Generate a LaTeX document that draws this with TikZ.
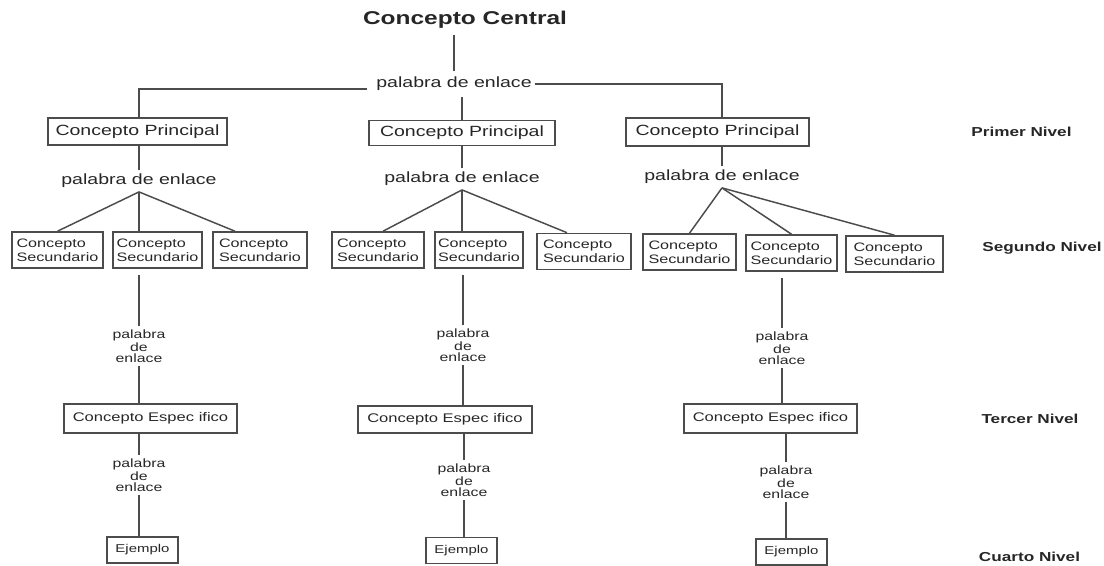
\documentclass[tikz,border=0pt]{standalone}
\usepackage{fontspec}
\setmainfont{Liberation Sans}[FakeStretch=1.32]
\definecolor{txt}{gray}{0.15}
\definecolor{ln}{gray}{0.3}
\begin{document}
\begin{tikzpicture}[x=0.75pt,y=-0.75pt,
  every node/.style={text=txt},
  box/.style={draw=ln, line width=1.2pt, inner sep=0pt},
  conn/.style={draw=ln, line width=1.1pt},
  pebig/.style={inner sep=0pt, outer xsep=0pt, outer ysep=3pt, font=\fontsize{11.1}{12}\selectfont},
  pesmall/.style={inner sep=0pt, outer sep=3pt, align=center, font=\fontsize{9}{8.3}\selectfont},
  princ/.style={box, font=\fontsize{11.1}{12}\selectfont},
  sec/.style={box, align=left, font=\fontsize{9.2}{10.5}\selectfont, minimum height=27pt},
  espec/.style={box, font=\fontsize{9.4}{10}\selectfont, minimum width=130pt},
  ejem/.style={box, font=\fontsize{8.5}{9}\selectfont, minimum width=53.25pt, minimum height=19.5pt},
  nivel/.style={inner sep=0pt, font=\bfseries\fontsize{9.75}{11}\selectfont}
]
\useasboundingbox (0,0) rectangle (1104,565);

% top
\node[inner sep=0pt, outer sep=5pt, font=\bfseries\fontsize{13.9}{15}\selectfont] (central) at (465,20) {Concepto Central};
\node[pebig, outer ysep=4.5pt] (pe0) at (454,84) {palabra de enlace};
\coordinate (hl) at (367,89);
\coordinate (hr) at (535,84);

% level 1
\node[princ, minimum width=134.25pt, minimum height=20.25pt] (p1) at (137.5,131.5) {Concepto Principal};
\node[princ, minimum width=139.5pt, minimum height=18.75pt] (p2) at (462,133) {Concepto Principal};
\node[princ, minimum width=137.25pt, minimum height=21pt] (p3) at (717.5,132) {Concepto Principal};

\node[pebig] (pe1L) at (139,181) {palabra de enlace};
\node[pebig] (pe1M) at (462,179) {palabra de enlace};
\node[pebig] (pe1R) at (722,177) {palabra de enlace};

% level 2
\node[sec, minimum width=68.25pt] (s1L) at (57.5,250) {Concepto\\Secundario};
\node[sec, minimum width=66.75pt] (s2L) at (157.5,250) {Concepto\\Secundario};
\node[sec, minimum width=70.5pt] (s3L) at (260,250) {Concepto\\Secundario};
\node[sec, minimum width=69pt] (s1M) at (378,250) {Concepto\\Secundario};
\node[sec, minimum width=66pt] (s2M) at (479,250) {Concepto\\Secundario};
\node[sec, minimum width=70.5pt] (s3M) at (584,251.5) {Concepto\\Secundario};
\node[sec, minimum width=69.75pt] (s1R) at (689.5,252) {Concepto\\Secundario};
\node[sec, minimum width=68.25pt] (s2R) at (791.5,253) {Concepto\\Secundario};
\node[sec, minimum width=72.75pt] (s3R) at (894.5,254) {Concepto\\Secundario};

\node[pesmall] (pe2L) at (139,346) {palabra\\de\\enlace};
\node[pesmall] (pe2M) at (463,345) {palabra\\de\\enlace};
\node[pesmall] (pe2R) at (782,348) {palabra\\de\\enlace};

% level 3
\node[espec, minimum width=129.75pt, minimum height=21.75pt] (e3L) at (150.5,418.5) {Concepto Espec ifico};
\node[espec, minimum width=130.5pt, minimum height=20.25pt] (e3M) at (445,419.5) {Concepto Espec ifico};
\node[espec, minimum width=129.75pt, minimum height=21.75pt] (e3R) at (770.5,418.5) {Concepto Espec ifico};

\node[pesmall] (pe3L) at (139,475) {palabra\\de\\enlace};
\node[pesmall] (pe3M) at (464,480) {palabra\\de\\enlace};
\node[pesmall] (pe3R) at (786,482) {palabra\\de\\enlace};

% level 4
\node[ejem] (x4L) at (142.5,550) {Ejemplo};
\node[ejem] (x4M) at (461.5,550.5) {Ejemplo};
\node[ejem] (x4R) at (791.5,552) {Ejemplo};

% level labels
\node[nivel] (n1) at (1021.5,132) {Primer Nivel};
\node[nivel] (n2) at (1042,248) {Segundo Nivel};
\node[nivel] (n3) at (1030,419) {Tercer Nivel};
\node[nivel] (n4) at (1029.5,557) {Cuarto Nivel};

% connectors top
\draw[conn] (pe0.north) -- (pe0.north |- central.south);
\draw[conn] (hl) -| (pe1L.north |- p1.north);
\draw[conn] (hr) -| (pe1R.north |- p3.north);
\draw[conn] (p2.north) -- (p2.north |- pe0.south);

% principal to palabra
\draw[conn] (pe1L.north) -- (pe1L.north |- p1.south);
\draw[conn] (pe1M.north) -- (pe1M.north |- p2.south);
\draw[conn] (pe1R.north) -- (pe1R.north |- p3.south);

% fans
\draw[conn] (pe1L.south) -- (s1L.north);
\draw[conn] (pe1L.south) -- (pe1L.south |- s2L.north);
\draw[conn] (pe1L.south) -- ([xshift=-18.75pt]s3L.north);
\draw[conn] (pe1M.south) -- ([xshift=3.75pt]s1M.north);
\draw[conn] (pe1M.south) -- (pe1M.south |- s2M.north);
\draw[conn] (pe1M.south) -- ([xshift=-12.75pt]s3M.north);
\draw[conn] (pe1R.south) -- (s1R.north);
\draw[conn] (pe1R.south) -- (s2R.north);
\draw[conn] (pe1R.south) -- (s3R.north);

% secondary to specific
\draw[conn, shorten >=4.5pt] (pe2L.north) -- (pe2L.north |- s2L.south);
\draw[conn, shorten >=5pt] (pe2M.north) -- (pe2M.north |- s2M.south);
\draw[conn, shorten >=4.5pt] (pe2R.north) -- (pe2R.north |- s2R.south);
\draw[conn] (pe2L.south) -- (pe2L.south |- e3L.north);
\draw[conn] (pe2M.south) -- (pe2M.south |- e3M.north);
\draw[conn] (pe2R.south) -- (pe2R.south |- e3R.north);

% specific to example
\draw[conn] (pe3L.north) -- (pe3L.north |- e3L.south);
\draw[conn] (pe3M.north) -- (pe3M.north |- e3M.south);
\draw[conn] (pe3R.north) -- (pe3R.north |- e3R.south);
\draw[conn] (pe3L.south) -- (pe3L.south |- x4L.north);
\draw[conn] (pe3M.south) -- (pe3M.south |- x4M.north);
\draw[conn] (pe3R.south) -- (pe3R.south |- x4R.north);
\end{tikzpicture}
\end{document}
